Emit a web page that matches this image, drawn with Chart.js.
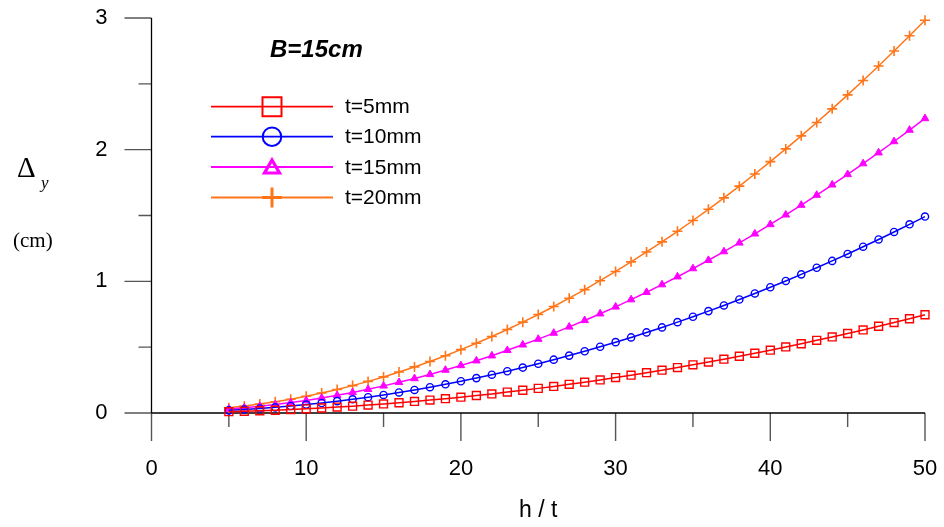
<!DOCTYPE html>
<html>
<head>
<meta charset="utf-8">
<script src="https://cdn.jsdelivr.net/npm/chart.js@4.4.0/dist/chart.umd.min.js"></script>
<style>
  html, body { margin: 0; padding: 0; background: #fff; }
</style>
</head>
<body>
<canvas id="myChart" width="944" height="527"></canvas>
<script>
// h / t values (one point per unit)
const hOverT = [5, 6, 7, 8, 9, 10, 11, 12, 13, 14, 15, 16, 17, 18, 19, 20, 21, 22, 23, 24, 25, 26, 27,
    28, 29, 30, 31, 32, 33, 34, 35, 36, 37, 38, 39, 40, 41, 42, 43, 44, 45, 46, 47, 48, 49, 50];

// deflection (cm)
const t5 = [0.010, 0.013, 0.017, 0.021, 0.026, 0.032, 0.038, 0.045, 0.052, 0.060, 0.069, 0.078, 0.088, 0.098,
    0.109, 0.120, 0.133, 0.145, 0.159, 0.173, 0.187, 0.202, 0.218, 0.234, 0.251, 0.269, 0.287, 0.306, 0.325,
    0.345, 0.366, 0.387, 0.409, 0.431, 0.454, 0.477, 0.502, 0.526, 0.552, 0.578, 0.604, 0.631, 0.659, 0.687,
    0.716, 0.746];
const t10 = [0.020, 0.027, 0.034, 0.043, 0.053, 0.064, 0.076, 0.090, 0.104, 0.120, 0.137, 0.156, 0.175, 0.196,
    0.218, 0.241, 0.265, 0.291, 0.317, 0.345, 0.374, 0.405, 0.436, 0.469, 0.503, 0.538, 0.574, 0.612, 0.650,
    0.690, 0.731, 0.774, 0.817, 0.862, 0.908, 0.955, 1.003, 1.053, 1.103, 1.155, 1.208, 1.263, 1.318, 1.375,
    1.433, 1.492];
const t15 = [0.030, 0.040, 0.051, 0.064, 0.079, 0.095, 0.114, 0.134, 0.156, 0.180, 0.206, 0.233, 0.262, 0.293,
    0.326, 0.361, 0.397, 0.435, 0.476, 0.518, 0.561, 0.607, 0.654, 0.703, 0.754, 0.806, 0.861, 0.917, 0.975,
    1.035, 1.097, 1.160, 1.226, 1.292, 1.361, 1.432, 1.505, 1.579, 1.655, 1.733, 1.812, 1.894, 1.977, 2.062,
    2.149, 2.237];
const t20 = [0.040, 0.053, 0.068, 0.085, 0.105, 0.127, 0.152, 0.179, 0.208, 0.240, 0.274, 0.311, 0.350, 0.391,
    0.435, 0.481, 0.530, 0.581, 0.634, 0.690, 0.748, 0.809, 0.872, 0.937, 1.005, 1.075, 1.148, 1.223, 1.300,
    1.380, 1.462, 1.547, 1.634, 1.723, 1.815, 1.909, 2.006, 2.105, 2.206, 2.310, 2.416, 2.525, 2.636, 2.749,
    2.865, 2.983];

const seriesNames = ['t=5mm', 't=10mm', 't=15mm', 't=20mm'];
const xTicks = [0, 10, 20, 30, 40, 50];
const xMinor = [5, 15, 25, 35, 45];
const yTicks = [0, 1, 2, 3];
const yMinor = [0.5, 1.5, 2.5];

const colors = ['#ff0000', '#0000ff', '#ff00ff', '#ff7518'];

function pts(arr) {
    return hOverT.map((h, i) => ({ x: h, y: arr[i] }));
}

// axes with outward ticks, drawn under the lines
const axesPlugin = {
    id: 'axesPlugin',
    beforeDatasetsDraw(chart) {
        const c = chart.ctx;
        const xs = chart.scales.x, ys = chart.scales.y;
        const x0 = xs.getPixelForValue(0), x1 = xs.getPixelForValue(50);
        const y0 = ys.getPixelForValue(0), y1 = ys.getPixelForValue(3);
        c.save();
        c.strokeStyle = '#555';
        c.lineWidth = 1.4;
        c.beginPath();
        xTicks.forEach(v => { const p = xs.getPixelForValue(v); c.moveTo(p, y0); c.lineTo(p, y0 + 28); });
        xMinor.forEach(v => { const p = xs.getPixelForValue(v); c.moveTo(p, y0); c.lineTo(p, y0 + 14); });
        yTicks.forEach(v => { const p = ys.getPixelForValue(v); c.moveTo(x0, p); c.lineTo(x0 - 27, p); });
        yMinor.forEach(v => { const p = ys.getPixelForValue(v); c.moveTo(x0, p); c.lineTo(x0 - 13, p); });
        c.stroke();
        c.strokeStyle = '#000';
        c.lineWidth = 1.3;
        c.beginPath();
        c.moveTo(x0, y1); c.lineTo(x0, y0);
        c.moveTo(x0, y0); c.lineTo(x1, y0);
        c.stroke();
        c.restore();
    },
    afterDraw(chart) {
        const c = chart.ctx;
        c.save();
        c.fillStyle = '#000';
        // y axis title
        c.textBaseline = 'alphabetic';
        c.font = '29px "Liberation Serif"';
        c.fillText('\u0394', 17, 177);
        c.font = 'italic 17px "Liberation Serif"';
        c.fillText('y', 41, 188);
        c.font = '21px "Liberation Serif"';
        c.fillText('(cm)', 13, 247);
        // panel note
        c.font = 'bold italic 24px "Liberation Sans"';
        c.fillText('B=15cm', 270, 57);

        // legend
        const rows = [106.7, 136.7, 167, 197.5];
        const mx = 272;
        rows.forEach((ry, i) => {
            c.strokeStyle = colors[i];
            c.fillStyle = colors[i];
            c.lineWidth = 1.8;
            c.beginPath();
            c.moveTo(211, ry); c.lineTo(333, ry);
            c.stroke();
            c.lineWidth = 2;
            c.beginPath();
            if (i === 0) {
                c.rect(mx - 9.5, ry - 9.5, 19, 19);
            } else if (i === 1) {
                c.arc(mx, ry, 9.3, 0, Math.PI * 2);
            } else if (i === 2) {
                c.lineWidth = 3.2;
                c.moveTo(mx, ry - 7);
                c.lineTo(mx + 7.5, ry + 6);
                c.lineTo(mx - 7.5, ry + 6);
                c.closePath();
            } else {
                c.lineWidth = 3;
                c.moveTo(mx - 10, ry); c.lineTo(mx + 10, ry);
                c.moveTo(mx, ry - 10); c.lineTo(mx, ry + 10);
            }
            c.stroke();
            c.fillStyle = '#000';
            c.font = '21px "Liberation Sans"';
            c.textBaseline = 'middle';
            c.fillText(seriesNames[i], 345, ry + 1);
        });
        c.restore();
    }
};

const ctx = document.getElementById('myChart');

const chart = new Chart(ctx, {
    type: 'scatter',
    data: {
        datasets: [
            { label: seriesNames[0], data: pts(t5), borderColor: colors[0], backgroundColor: 'rgba(0,0,0,0)',
              pointStyle: 'rect', pointRadius: 5.6, pointBorderWidth: 1.4 },
            { label: seriesNames[1], data: pts(t10), borderColor: colors[1], backgroundColor: 'rgba(0,0,0,0)',
              pointStyle: 'circle', pointRadius: 3.6, pointBorderWidth: 1.4 },
            { label: seriesNames[2], data: pts(t15), borderColor: colors[2], backgroundColor: colors[2],
              pointStyle: 'triangle', pointRadius: 4.4, pointBorderWidth: 1 },
            { label: seriesNames[3], data: pts(t20), borderColor: colors[3], backgroundColor: colors[3],
              pointStyle: 'cross', pointRadius: 5, pointBorderWidth: 1.6 }
        ].map(d => Object.assign(d, { showLine: true, borderWidth: 1.5, clip: false, pointHoverRadius: d.pointRadius }))
    },
    options: {
        responsive: false,
        animation: false,
        devicePixelRatio: 1,
        layout: { padding: { left: 0, top: 18, right: 19, bottom: 0 } },
        plugins: {
            legend: { display: false },
            tooltip: { enabled: false }
        },
        scales: {
            x: {
                type: 'linear',
                min: 0,
                max: 50,
                afterBuildTicks: s => { s.ticks = xTicks.map(v => ({ value: v })); },
                afterFit: s => { s.height = 114; s.paddingLeft = 0; s.paddingRight = 0; },
                grid: { display: false, drawTicks: false },
                border: { display: false },
                ticks: {
                    autoSkip: false,
                    maxRotation: 0,
                    padding: 43,
                    color: '#000',
                    font: { family: 'Liberation Sans', size: 22 }
                },
                title: {
                    display: true,
                    text: 'h / t',
                    color: '#000',
                    font: { family: 'Liberation Sans', size: 23 },
                    padding: { top: 0, bottom: 3 }
                }
            },
            y: {
                type: 'linear',
                min: 0,
                max: 3,
                afterBuildTicks: s => { s.ticks = yTicks.map(v => ({ value: v })); },
                afterFit: s => { s.width = 151.5; s.paddingTop = 0; s.paddingBottom = 0; },
                grid: { display: false, drawTicks: false },
                border: { display: false },
                ticks: {
                    autoSkip: false,
                    padding: 44,
                    color: '#000',
                    font: { family: 'Liberation Sans', size: 22 }
                }
            }
        }
    },
    plugins: [axesPlugin]
});
</script>
</body>
</html>
